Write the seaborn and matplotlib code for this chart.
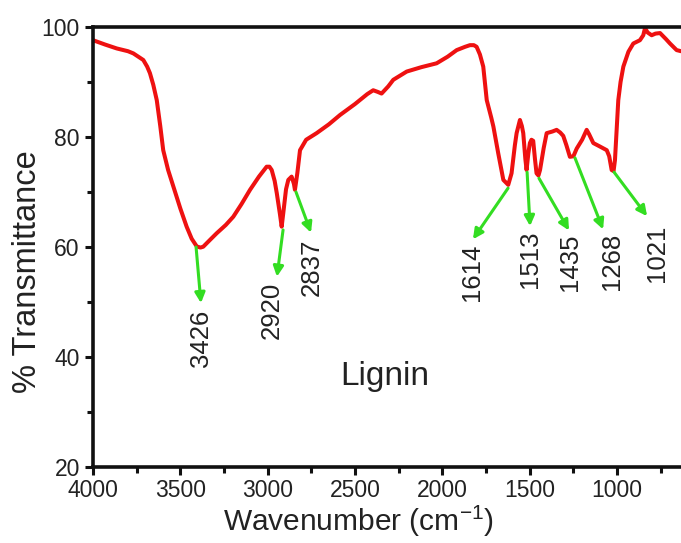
import matplotlib
matplotlib.use("Agg")
import matplotlib.pyplot as plt
import seaborn as sns
import pandas as pd

wavenumber = [4000, 3930, 3864, 3800, 3769, 3712, 3690, 3674, 3655, 3635, 3615, 3598, 3570, 3540,
              3500, 3464, 3435, 3406, 3385, 3369, 3330, 3292, 3240, 3197, 3150, 3101, 3050, 3006,
              2990, 2977, 2960, 2948, 2930, 2920, 2911, 2895, 2882, 2863, 2850, 2844, 2830, 2815,
              2780, 2720, 2650, 2586, 2500, 2430, 2396, 2370, 2348, 2310, 2281, 2240, 2204, 2120,
              2033, 1970, 1918, 1870, 1842, 1820, 1804, 1785, 1766, 1746, 1720, 1708, 1680, 1651,
              1623, 1604, 1585, 1575, 1556, 1545, 1537, 1525, 1518, 1508, 1499, 1490, 1480, 1470,
              1461, 1450, 1441, 1420, 1403, 1370, 1346, 1325, 1308, 1290, 1270, 1250, 1231, 1200,
              1174, 1160, 1136, 1100, 1059, 1045, 1031, 1020, 1012, 993, 980, 964, 935, 907, 869,
              850, 840, 825, 802, 780, 754, 720, 697, 659, 634]
transmittance = [97.6, 96.8, 96.1, 95.6, 95.2, 94.0, 92.8, 91.6, 89.5, 86.7, 82.0, 77.6, 74.0, 71.0,
                 67.0, 63.7, 61.5, 60.1, 59.9, 60.05, 61.3, 62.5, 64.0, 65.5, 67.8, 70.4, 72.8, 74.6,
                 74.6, 74.0, 72.0, 69.8, 66.0, 63.7, 66.1, 70.5, 72.2, 72.8, 71.5, 70.4, 73.5, 77.6,
                 79.5, 80.7, 82.3, 84.0, 86.0, 87.8, 88.5, 88.2, 87.9, 89.2, 90.4, 91.2, 91.9, 92.7,
                 93.4, 94.6, 95.8, 96.4, 96.7, 96.7, 96.4, 95.0, 92.8, 86.7, 83.5, 81.9, 77.0, 72.2,
                 71.3, 73.4, 78.5, 80.7, 83.1, 82.0, 80.7, 76.0, 74.0, 77.0, 78.9, 79.5, 79.3, 76.0,
                 73.4, 73.0, 74.0, 78.0, 80.7, 81.0, 81.3, 80.8, 80.2, 78.5, 76.4, 76.5, 77.9, 79.5,
                 81.3, 80.5, 78.9, 78.3, 77.6, 76.5, 74.0, 73.8, 75.8, 86.7, 90.0, 92.8, 95.5, 97.0, 97.6,
                 98.5, 99.8, 99.0, 98.5, 98.8, 98.9, 97.8, 97.0, 95.8, 95.6]

# peak annotations: label, arrow start (on curve), arrow end, text anchor (top)
peak_labels = ["3426", "2920", "2837", "1614", "1513", "1435", "1268", "1021"]
arrow_start = [(3410, 60.0), (2912, 63.1), (2838, 70.0), (1624, 70.7),
               (1515, 73.6), (1447, 72.5), (1241, 76.2), (1017, 73.6)]
arrow_end = [(3382, 49.8), (2947, 54.6), (2752, 62.6), (1825, 61.4),
             (1498, 63.8), (1275, 63.0), (1080, 63.2), (828, 65.6)]
text_pos = [(3382, 48.6), (2975, 53.6), (2746, 61.6), (1830, 60.6),
            (1498, 63.0), (1269, 62.4), (1029, 62.6), (771, 64.0)]

sns.set_style("ticks")
plt.rcParams["font.family"] = ["Liberation Sans", "DejaVu Sans"]
plt.rcParams["mathtext.default"] = "regular"

df = pd.DataFrame({"Wavenumber": wavenumber, "T": transmittance})

fig = plt.figure(figsize=(6.81, 5.43), dpi=100)
ax = fig.add_axes([93 / 681, 1 - 467 / 543, 1 - 93 / 681, 440 / 543])
sns.lineplot(data=df, x="Wavenumber", y="T", ax=ax, color="#ee1111", lw=2.9,
             estimator=None, sort=False)

green = "#33dd22"
for lab, s, e, t in zip(peak_labels, arrow_start, arrow_end, text_pos):
    ax.annotate("", xy=e, xytext=s,
                arrowprops=dict(arrowstyle="-|>,head_length=0.6,head_width=0.3",
                                color=green, lw=2.2, shrinkA=0, shrinkB=0))
    ax.text(t[0], t[1], lab, rotation=90, ha="center", va="top", fontsize=18.5, color="#222222")

ax.text(2328, 34.9, "Lignin", ha="center", va="baseline", fontsize=24, color="#222222")

ax.set_xlim(4000, 634)
ax.set_ylim(20, 100)
ax.set_xticks([4000, 3500, 3000, 2500, 2000, 1500, 1000])
ax.set_xticks([3750, 3250, 2750, 2250, 1750, 1250, 750], minor=True)
ax.set_yticks([20, 40, 60, 80, 100])
ax.set_yticks([30, 50, 70, 90], minor=True)
ax.tick_params(axis="both", which="major", labelsize=16.5, width=2.2, length=6, colors="#111111",
               labelcolor="#222222")
ax.tick_params(axis="x", which="major", pad=2.5)
ax.tick_params(axis="both", which="minor", width=2.2, length=4, colors="#111111")

for side in ["left", "bottom", "top"]:
    ax.spines[side].set_linewidth(2.6)
    ax.spines[side].set_color("#111111")
    ax.spines[side].set_visible(True)
ax.spines["right"].set_visible(False)

ax.set_xlabel("Wavenumber (cm$^{-1}$)", fontsize=21.5, color="#222222")
ax.set_ylabel("% Transmittance", fontsize=23.5, color="#222222")
ax.xaxis.set_label_coords(0.451, -0.1445)
ax.xaxis.label.set_verticalalignment("baseline")
ax.yaxis.set_label_coords(-0.097, 0.444)
ax.yaxis.label.set_verticalalignment("baseline")

fig.savefig("out.png", dpi=100)
